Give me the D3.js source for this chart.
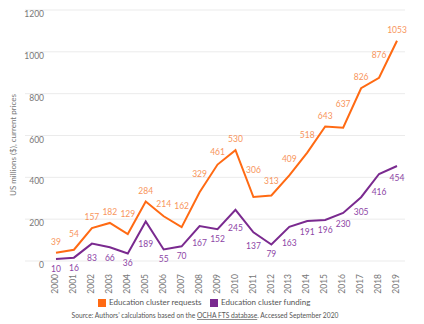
<!DOCTYPE html>
<html lang="en">
<head>
<meta charset="UTF-8">
<title>Education cluster requests and funding</title>
<script src="https://d3js.org/d3.v7.min.js"></script>
<style>
  body { margin: 0; background: #fff; }
  text { font-family: Lato, "Open Sans", sans-serif; }
</style>
</head>
<body>
<script>
    var years = ["2000","2001","2002","2003","2004","2005","2006","2007","2008","2009",
                 "2010","2011","2012","2013","2014","2015","2016","2017","2018","2019"];
    var requests = [39, 54, 157, 182, 129, 284, 214, 162, 329, 461, 530, 306, 313, 409, 518, 643, 637, 826, 876, 1053];
    var funding = [10, 16, 83, 66, 36, 189, 55, 70, 167, 152, 245, 137, 79, 163, 191, 196, 230, 305, 416, 454];
    var yTicks = [0, 200, 400, 600, 800, 1000, 1200];

    var width = 424, height = 324;
    var orange = "#ff6a13", purple = "#7a2a8f";
    var orangeLabel = "#f8955c", purpleLabel = "#8d45a6";

    var svg = d3.select("body").append("svg")
        .attr("width", width)
        .attr("height", height);

    var x = d3.scalePoint().domain(years).range([56, 397]);
    var y = d3.scaleLinear().domain([0, 1200]).range([261, 10]);

    // gridlines + y labels
    var grid = svg.append("g");
    grid.selectAll("line").data(yTicks).enter().append("line")
        .attr("x1", 25).attr("x2", 405)
        .attr("y1", function(d) { return y(d); })
        .attr("y2", function(d) { return y(d); })
        .style("stroke", "#ebebeb")
        .style("stroke-width", 1);
    grid.selectAll("text").data(yTicks).enter().append("text")
        .attr("x", 44)
        .attr("y", function(d) { return y(d) + 5; })
        .attr("text-anchor", "end")
        .attr("dominant-baseline", "middle")
        .style("font-size", "8.5px")
        .style("fill", "#777")
        .text(function(d) { return d; });

    // y title
    svg.append("text")
        .attr("transform", "translate(14,145) rotate(-90)")
        .attr("text-anchor", "middle")
        .attr("dominant-baseline", "middle")
        .style("font-size", "8px")
        .style("fill", "#777")
        .text("US millions ($), current prices");

    // x labels
    svg.append("g").selectAll("text").data(years).enter().append("text")
        .attr("transform", function(d) { return "translate(" + x(d) + ",274) rotate(-90)"; })
        .attr("text-anchor", "end")
        .attr("dominant-baseline", "middle")
        .style("font-size", "8.5px")
        .style("fill", "#777")
        .text(function(d) { return d; });

    var line = d3.line()
        .x(function(d, i) { return x(years[i]); })
        .y(function(d) { return y(d); });

    svg.append("path").datum(requests)
        .attr("d", line)
        .style("fill", "none")
        .style("stroke", orange)
        .style("stroke-width", 2);

    svg.append("path").datum(funding)
        .attr("d", line)
        .style("fill", "none")
        .style("stroke", purple)
        .style("stroke-width", 2);

    // line height a few px either side of a point, so labels clear the line
    var step = x.step();
    function sideY(series, i, dir) {
        var j = i + dir;
        var y0 = y(series[i]);
        if (j < 0 || j >= series.length) return y0;
        return y0 + (y(series[j]) - y0) * 8 / step;
    }

    // value labels
    svg.append("g").selectAll("text").data(requests).enter().append("text")
        .attr("x", function(d, i) { return x(years[i]); })
        .attr("y", function(d, i) {
            return Math.min(y(d) - 8, sideY(requests, i, -1) - 3, sideY(requests, i, 1) - 3);
        })
        .attr("text-anchor", "middle")
        .style("font-size", "8.5px")
        .style("fill", orangeLabel)
        .text(function(d) { return d; });

    svg.append("g").selectAll("text").data(funding).enter().append("text")
        .attr("x", function(d, i) { return x(years[i]); })
        .attr("y", function(d, i) {
            return Math.max(y(d) + 10, sideY(funding, i, -1) + 8, sideY(funding, i, 1) + 8) + 3;
        })
        .attr("text-anchor", "middle")
        .style("font-size", "8.5px")
        .style("fill", purpleLabel)
        .text(function(d) { return d; });

    // legend
    var legendItems = [
        { label: "Education cluster requests", color: orange, x: 98 },
        { label: "Education cluster funding", color: purple, x: 210 }
    ];
    var legend = svg.append("g").selectAll("g").data(legendItems).enter().append("g")
        .attr("transform", function(d) { return "translate(" + d.x + ",299)"; });
    legend.append("rect")
        .attr("width", 8).attr("height", 8)
        .style("fill", function(d) { return d.color; });
    legend.append("text")
        .attr("x", 11).attr("y", 4)
        .attr("dominant-baseline", "middle")
        .style("font-size", "8px")
        .style("fill", "#555")
        .text(function(d) { return d.label; });

    // source
    var src = svg.append("text")
        .attr("x", 205).attr("y", 318)
        .attr("text-anchor", "middle")
        .style("font-size", "6.7px")
        .style("fill", "#555");
    src.append("tspan").text("Source: Authors\u2019 calculations based on the ");
    src.append("tspan").style("text-decoration", "underline").text("OCHA FTS database");
    src.append("tspan").text(". Accessed September 2020");
</script>
</body>
</html>
